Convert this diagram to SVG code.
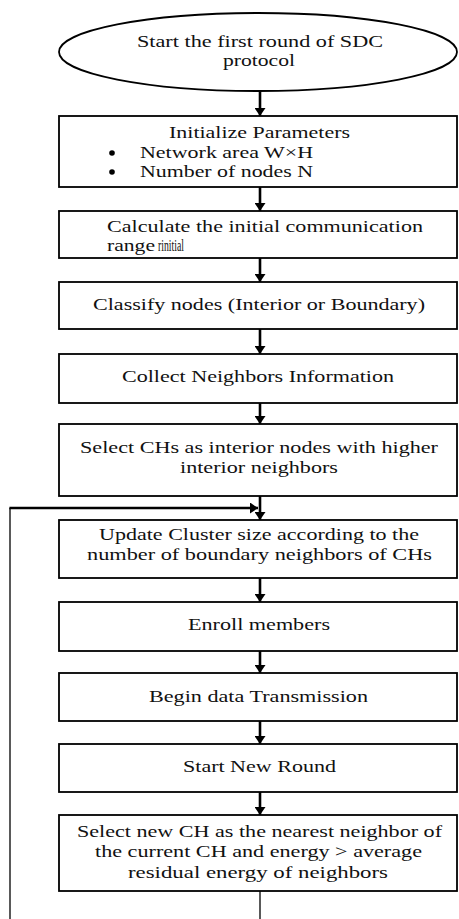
<svg xmlns="http://www.w3.org/2000/svg" width="459" height="919" viewBox="0 0 459 919">
<style>
.box{fill:#fff;stroke:#000;stroke-width:1.8}
.t{font-family:"Liberation Serif","Times New Roman",serif;font-size:17px;fill:#111}
.c{stroke:#000;stroke-width:2.6;fill:none}
.thin{stroke:#000;stroke-width:1.3;fill:none}
</style>
<defs>
<marker id="ah" viewBox="0 0 8 11" refX="8" refY="5.5" markerWidth="8" markerHeight="11" orient="auto" markerUnits="userSpaceOnUse">
<path d="M0,0 L8,5.5 L0,11 Z" fill="#000"/>
</marker>
</defs>
<rect width="459" height="919" fill="#fff"/>
<g id="connectors">
<line class="c" x1="260" y1="91" x2="260" y2="116" marker-end="url(#ah)"/>
<line class="c" x1="260" y1="187" x2="260" y2="211" marker-end="url(#ah)"/>
<line class="c" x1="260" y1="258" x2="260" y2="282" marker-end="url(#ah)"/>
<line class="c" x1="260" y1="329" x2="260" y2="354" marker-end="url(#ah)"/>
<line class="c" x1="260" y1="403" x2="260" y2="424" marker-end="url(#ah)"/>
<line class="c" x1="260" y1="496" x2="260" y2="520" marker-end="url(#ah)"/>
<line class="c" x1="260" y1="578" x2="260" y2="602" marker-end="url(#ah)"/>
<line class="c" x1="260" y1="651" x2="260" y2="673" marker-end="url(#ah)"/>
<line class="c" x1="260" y1="721" x2="260" y2="744" marker-end="url(#ah)"/>
<line class="c" x1="260" y1="792" x2="260" y2="815" marker-end="url(#ah)"/>
<line class="thin" x1="260" y1="891" x2="260" y2="919"/>
<line class="thin" x1="10" y1="919" x2="10" y2="508"/>
<line class="c" x1="9.4" y1="508" x2="258" y2="508" marker-end="url(#ah)"/>
</g>
<g id="n0">
<ellipse class="box" cx="258" cy="52" rx="199" ry="39"/>
<text class="t" x="137" y="47" textLength="246" lengthAdjust="spacingAndGlyphs">Start the first round of SDC</text>
<text class="t" x="223" y="66" textLength="72" lengthAdjust="spacingAndGlyphs">protocol</text>
</g>
<g id="n1">
<rect class="box" x="59" y="116" width="398" height="71"/>
<text class="t" x="169" y="138" textLength="181" lengthAdjust="spacingAndGlyphs">Initialize Parameters</text>
<circle cx="112" cy="153" r="2.8" fill="#000"/>
<circle cx="112" cy="172" r="2.8" fill="#000"/>
<text class="t" x="140" y="158" textLength="173" lengthAdjust="spacingAndGlyphs">Network area W×H</text>
<text class="t" x="140" y="177" textLength="173" lengthAdjust="spacingAndGlyphs">Number of nodes N</text>
</g>
<g id="n2">
<rect class="box" x="59" y="211" width="398" height="47"/>
<text class="t" x="107" y="232" textLength="316" lengthAdjust="spacingAndGlyphs">Calculate the initial communication</text>
<text class="t" x="107" y="251" textLength="48" lengthAdjust="spacingAndGlyphs">range</text>
<text class="t" x="158" y="251" font-size="11" textLength="26" lengthAdjust="spacingAndGlyphs">rinitial</text>
</g>
<g id="n3">
<rect class="box" x="59" y="282" width="398" height="47"/>
<text class="t" x="93" y="310" textLength="332" lengthAdjust="spacingAndGlyphs">Classify nodes (Interior or Boundary)</text>
</g>
<g id="n4">
<rect class="box" x="59" y="354" width="398" height="49"/>
<text class="t" x="122" y="382" textLength="272" lengthAdjust="spacingAndGlyphs">Collect Neighbors Information</text>
</g>
<g id="n5">
<rect class="box" x="59" y="424" width="398" height="72"/>
<text class="t" x="80" y="453" textLength="358" lengthAdjust="spacingAndGlyphs">Select CHs as interior nodes with higher</text>
<text class="t" x="180" y="473" textLength="158" lengthAdjust="spacingAndGlyphs">interior neighbors</text>
</g>
<g id="n6">
<rect class="box" x="59" y="520" width="398" height="58"/>
<text class="t" x="99" y="540" textLength="320" lengthAdjust="spacingAndGlyphs">Update Cluster size according to the</text>
<text class="t" x="87" y="560" textLength="345" lengthAdjust="spacingAndGlyphs">number of boundary neighbors of CHs</text>
</g>
<g id="n7">
<rect class="box" x="59" y="602" width="398" height="49"/>
<text class="t" x="188" y="630" textLength="142" lengthAdjust="spacingAndGlyphs">Enroll members</text>
</g>
<g id="n8">
<rect class="box" x="59" y="673" width="398" height="48"/>
<text class="t" x="149" y="702" textLength="219" lengthAdjust="spacingAndGlyphs">Begin data Transmission</text>
</g>
<g id="n9">
<rect class="box" x="59" y="744" width="398" height="48"/>
<text class="t" x="183" y="772" textLength="153" lengthAdjust="spacingAndGlyphs">Start New Round</text>
</g>
<g id="n10">
<rect class="box" x="59" y="815" width="398" height="76"/>
<text class="t" x="77" y="837" textLength="365" lengthAdjust="spacingAndGlyphs">Select new CH as the nearest neighbor of</text>
<text class="t" x="95" y="857" textLength="327" lengthAdjust="spacingAndGlyphs">the current CH and energy &gt; average</text>
<text class="t" x="128" y="878" textLength="260" lengthAdjust="spacingAndGlyphs">residual energy of neighbors</text>
</g>
</svg>
